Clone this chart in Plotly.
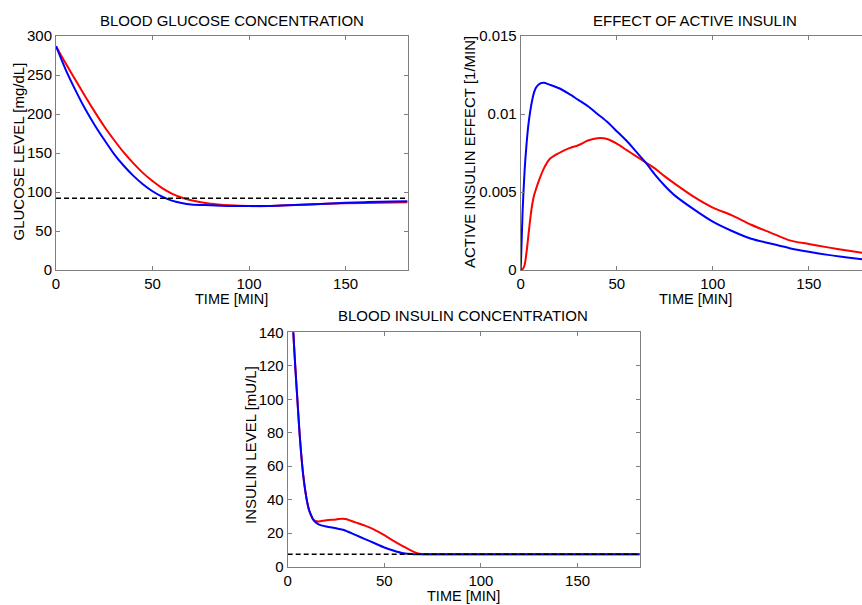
import plotly.graph_objects as go

# ---------------- data ----------------
# Blood glucose concentration [mg/dL]
t_glu = [0, 5, 10, 15, 20, 25, 30, 35, 40, 45, 50, 55, 60, 65, 70, 80, 90, 100, 110, 120, 140, 160, 182]
glu_red = [287, 265, 244, 223, 203, 184, 167, 151, 137, 124.5, 114, 105, 98, 93, 89.5, 85, 83, 82, 82, 83, 85, 86, 87]
glu_blue = [287, 257, 231, 207, 186, 167, 149, 134, 121, 110, 101, 94, 89, 86, 84, 83, 82, 82, 82, 83, 85, 87, 88]
glu_target = 92

# Effect of active insulin [1/min]
t_eff = [0, 1, 2, 3, 4, 5, 6, 7, 8, 10, 12, 15, 20, 25, 30, 35, 40, 45, 50, 55, 60, 65, 70, 75, 80, 90,
         100, 110, 120, 130, 140, 150, 160, 170, 178]
eff_blue = [0, 0.0038, 0.0063, 0.0080, 0.0093, 0.0102, 0.0109, 0.0114, 0.0117, 0.01195, 0.0120, 0.01188,
            0.01165, 0.0113, 0.0109, 0.0105, 0.0100, 0.0095, 0.0089, 0.0083, 0.0076, 0.0069, 0.0061, 0.0054,
            0.0048, 0.0039, 0.0031, 0.0025, 0.0020, 0.0017, 0.0014, 0.00117, 0.00097, 0.00080, 0.00068]
eff_red = [0, 0.00005, 0.0003, 0.0011, 0.0022, 0.0033, 0.0042, 0.0048, 0.0052, 0.0059, 0.0065, 0.0071,
           0.0075, 0.0078, 0.0080, 0.0083, 0.00845, 0.0084, 0.0081, 0.0077, 0.0073, 0.0069, 0.0065, 0.0060,
           0.00555, 0.0047, 0.0040, 0.0035, 0.0029, 0.0024, 0.0019, 0.00167, 0.00145, 0.00125, 0.0011]

# Blood insulin concentration [mU/L]
t_ins = [0, 1, 2, 3, 4, 5, 6, 7, 8, 9, 10, 11, 12, 13, 14, 16, 20, 25, 28, 30, 35, 40, 45, 50, 55, 60,
         65, 68, 70, 75, 80, 100, 120, 150, 182]
ins_red = [210, 185, 160, 138, 118, 100, 82, 67, 55, 46, 39, 34, 31, 28.5, 27.5, 27, 27.8, 28.2, 28.7,
           28.5, 26.5, 24.5, 22.0, 18.8, 15.3, 12.0, 9.0, 7.8, 7.5, 7.4, 7.4, 7.4, 7.4, 7.4, 7.4]
ins_blue = [210, 185, 160, 138, 118, 100, 82, 67, 55, 46, 39, 34, 31, 28.5, 27, 25.3, 24.0, 23.0, 22.2,
            21.5, 19.0, 16.5, 14.0, 11.5, 9.5, 8.0, 7.5, 7.4, 7.4, 7.4, 7.4, 7.4, 7.4, 7.4, 7.4]
ins_target = 7.4

x_ticks = [0, 50, 100, 150]
glu_ticks = [0, 50, 100, 150, 200, 250, 300]
eff_ticks = [0, 0.005, 0.01, 0.015]
eff_labels = ["0", "0.005", "0.01", "0.015"]
ins_ticks = [0, 20, 40, 60, 80, 100, 120, 140]

# ---------------- figure ----------------
W, H = 862, 605
FONT = "Liberation Sans, Arial, sans-serif"
RED = "#ff0000"
BLUE = "#0000ff"
AX = "#7f7f7f"

fig = go.Figure()

def curve(x, y, color, xa, ya):
    fig.add_trace(go.Scatter(x=x, y=y, mode="lines", xaxis=xa, yaxis=ya,
                             line=dict(color=color, width=2, shape="spline", smoothing=0.8),
                             showlegend=False, hoverinfo="skip"))

def dashed(x, y, xa, ya):
    fig.add_trace(go.Scatter(x=x, y=y, mode="lines", xaxis=xa, yaxis=ya,
                             line=dict(color="black", width=1.6, dash="5px,3px"),
                             showlegend=False, hoverinfo="skip"))

# glucose
curve(t_glu, glu_red, RED, "x", "y")
curve(t_glu, glu_blue, BLUE, "x", "y")
dashed([0, 182.5], [glu_target, glu_target], "x", "y")
# active insulin effect
curve(t_eff, eff_red, RED, "x2", "y2")
curve(t_eff, eff_blue, BLUE, "x2", "y2")
# insulin
curve(t_ins, ins_red, RED, "x3", "y3")
curve(t_ins, ins_blue, BLUE, "x3", "y3")
dashed([0, 182.5], [ins_target, ins_target], "x3", "y3")

def px_x(p):
    return p / W

def px_y(p):
    return 1 - p / H

tickfont = dict(family=FONT, size=15, color="black")
common_x = dict(showgrid=False, zeroline=False, showline=True, linecolor=AX, linewidth=1,
                ticks="inside", ticklen=4, tickcolor=AX, tickfont=tickfont, tickvals=x_ticks,
                mirror="ticks", automargin=False)
common_y = dict(showgrid=False, zeroline=False, showline=True, linecolor=AX, linewidth=1,
                ticks="inside", ticklen=4, tickcolor=AX, tickfont=tickfont, mirror="ticks",
                automargin=False)

top_dom = [px_y(270), px_y(36)]
fig.update_layout(
    template="none",
    width=W, height=H, margin=dict(l=0, r=0, t=0, b=0, pad=0), autosize=False,
    paper_bgcolor="white", plot_bgcolor="white",
    xaxis=dict(domain=[px_x(56), px_x(408.3)], range=[0, 182.5], anchor="y", **common_x),
    yaxis=dict(domain=top_dom, range=[0, 300], anchor="x", tickvals=glu_ticks, **common_y),
    xaxis2=dict(domain=[px_x(520.7), 1.0], range=[0, 177.7], anchor="y2", **common_x),
    yaxis2=dict(domain=top_dom, range=[0, 0.015], anchor="x2", tickvals=eff_ticks,
                ticktext=eff_labels, **{**common_y, "mirror": False}),
    xaxis3=dict(domain=[px_x(287.7), px_x(640)], range=[0, 182.3], anchor="y3", **common_x),
    yaxis3=dict(domain=[px_y(566.7), px_y(332.3)], range=[0, 140], anchor="x3",
                tickvals=ins_ticks, **common_y),
)

def ann(text, x, y, angle=0, size=15):
    fig.add_annotation(text=text, x=px_x(x), y=px_y(y), xref="paper", yref="paper",
                       showarrow=False, textangle=angle, xanchor="center", yanchor="middle",
                       borderpad=0, font=dict(family=FONT, size=size, color="black"))

ann("BLOOD GLUCOSE CONCENTRATION", 231.7, 20)
ann("EFFECT OF ACTIVE INSULIN", 695, 20)
ann("BLOOD INSULIN CONCENTRATION", 463, 315)
ann("TIME [MIN]", 231.7, 299.5, size=14.5)
ann("TIME [MIN]", 695, 299.5, size=14.5)
ann("TIME [MIN]", 463, 595.5, size=14.5)
ann("GLUCOSE LEVEL [mg/dL]", 18.5, 152, -90)
ann("ACTIVE INSULIN EFFECT [1/MIN]", 470, 152, -90)
ann("INSULIN LEVEL [mU/L]", 250, 445, -90)

fig.write_html("out.html",
               post_script="document.body.style.margin='0';document.body.style.overflow='hidden';")
